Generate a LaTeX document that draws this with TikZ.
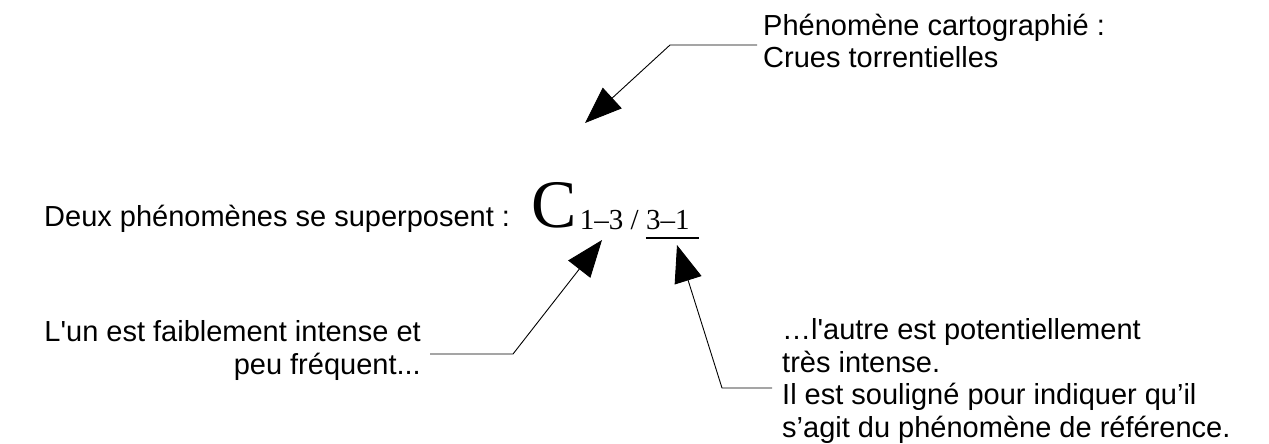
\documentclass[tikz,border=0pt]{standalone}
\usepackage{fontspec}
\setmainfont{Liberation Sans}
\newfontfamily\serifC{Liberation Serif}
\usetikzlibrary{arrows.meta}
\begin{document}
\begin{tikzpicture}[x=1pt,y=-1pt,
  lbl/.style={inner sep=0pt, font=\fontsize{29}{32.5}\selectfont, align=left},
  subs/.style={inner sep=0pt, anchor=base west, font=\fontsize{29}{29}\serifC},
  lead/.style={line width=0.9pt, -{Triangle[length=37pt,width=28pt]}},
  ]
\useasboundingbox[fill=white] (0,0) rectangle (1269,444);
% texts (multi-line nodes: base anchor = last line's baseline)
\node[lbl, anchor=base west] (top) at (763,68) {Phénomène cartographié :\\Crues torrentielles};
\node[lbl, anchor=base west] (deux) at (44,226) {Deux phénomènes se superposent :};
\node[inner sep=0pt, anchor=base west, font=\fontsize{68}{68}\serifC] (C) at (531,227) {C};
\node[subs] (sub) at ([xshift=3pt,yshift=-2pt]C.base east) {1–3 /};
\node[subs] (ref) at ([xshift=7pt]sub.base east) {3–1};
\draw[line width=2.4pt] ([yshift=-9pt]ref.base west) -- ([xshift=9pt,yshift=-9pt]ref.base east);
\node[lbl, anchor=base east, align=right] (un) at (421,374) {L\textquotesingle un est faiblement intense et\\peu fréquent...};
\node[lbl, anchor=base west] (autre) at (782,437) {…l\textquotesingle autre est potentiellement\\très intense.\\Il est souligné pour indiquer qu’il\\s’agit du phénomène de référence.};
% leaders
\coordinate (t1) at (757,45);
\coordinate (t2) at (670,45);
\coordinate (t3) at (585,123);
\draw[lead] (t1) -- (t2) -- (t3);
\coordinate (u1) at (430,354);
\coordinate (u2) at (513,354);
\coordinate (u3) at (602,240);
\draw[lead] (u1) -- (u2) -- (u3);
\coordinate (a1) at (772,388);
\coordinate (a2) at (722,388);
\coordinate (a3) at (677,245);
\draw[lead] (a1) -- (a2) -- (a3);
\end{tikzpicture}
\end{document}
